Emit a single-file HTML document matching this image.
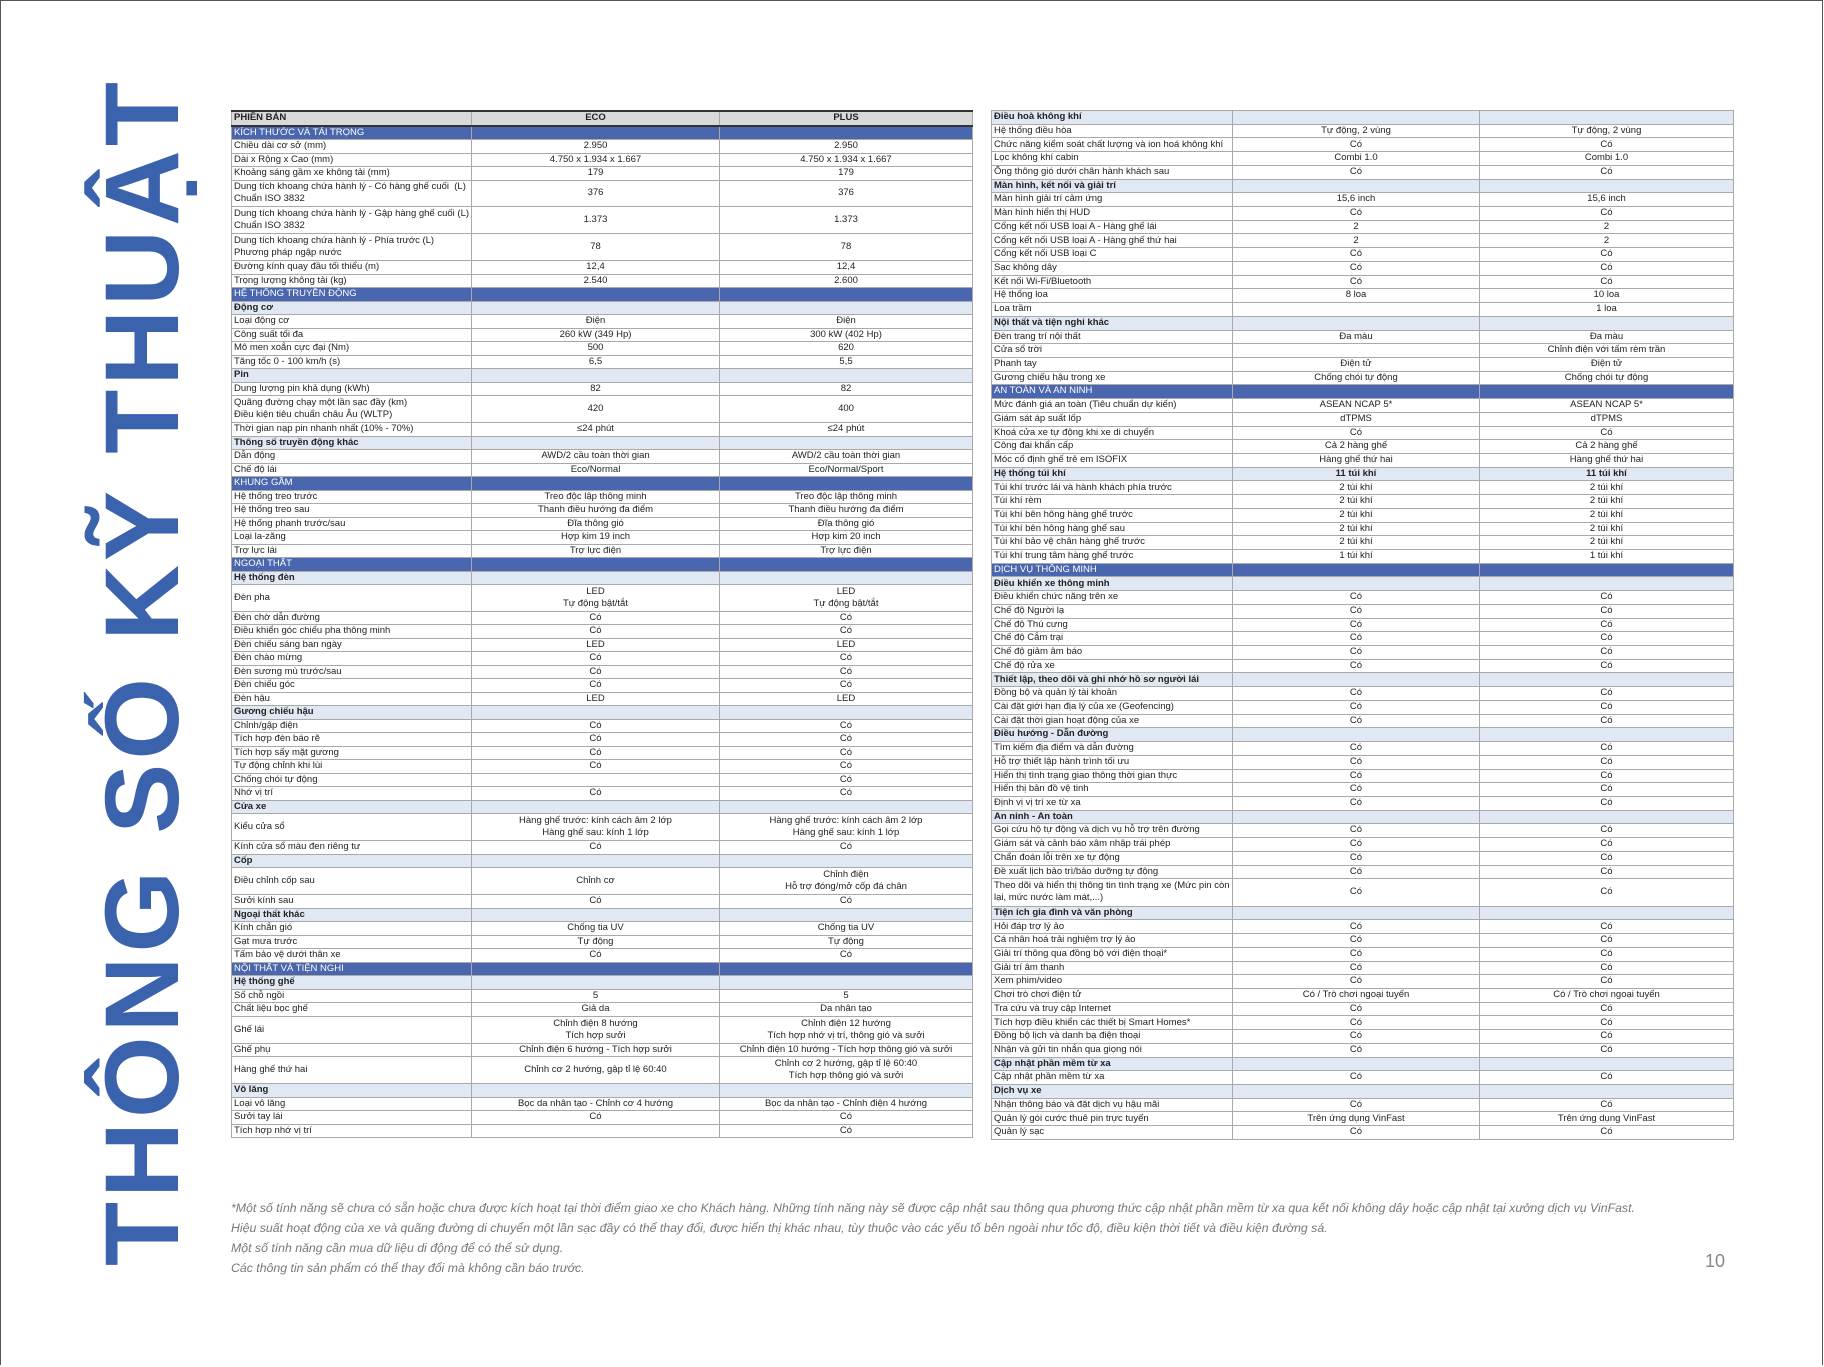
<!DOCTYPE html>
<html><head><meta charset="utf-8">
<style>
html,body{margin:0;padding:0;background:#fff}
body{width:1824px;height:1367px;position:relative;overflow:hidden;font-family:"Liberation Sans",sans-serif;}
.frame{position:absolute;left:0;top:0;width:1821px;height:1364px;border:1.5px solid #555;border-bottom:none}
.title{position:absolute;left:-512px;top:617px;width:1300px;height:110px;line-height:110px;text-align:center;transform:rotate(-90deg);font:bold 105px "Liberation Sans",sans-serif;color:#3a62ad;letter-spacing:4px;white-space:nowrap}
table{position:absolute;border-collapse:collapse;table-layout:fixed;font-size:9.5px;color:#222}
td{border:1px solid #a9a9a9;padding:0 2px;height:12.72px;line-height:12.5px;white-space:nowrap;overflow:hidden}
td:nth-child(2),td:nth-child(3){text-align:center}
tr.d td{height:26.44px;line-height:12px}
#L td{height:12.45px}
#L tr.d td{height:25.9px}
.w{height:24px;line-height:12px;overflow:hidden;display:flex;flex-direction:column;justify-content:center}
tr.h td{background:#d9d9d9;font-weight:bold;border-top:2px solid #333;border-bottom:2px solid #333}
tr.b td{background:#4a66ae;color:#fff}
tr.s td{background:#dfe8f3;font-weight:bold}
#L{left:231px;top:110px;width:741px}
#R{left:991px;top:110px;width:742px}
.note{position:absolute;left:231px;top:1198px;font:italic 12.3px "Liberation Sans",sans-serif;color:#777;line-height:20px}
.pg{position:absolute;left:1705px;top:1251px;font-size:18px;color:#888}
</style></head><body>
<div class="frame"></div>
<div class="title">THÔNG SỐ KỸ THUẬT</div>

<table id="L">
<colgroup><col style="width:240px"><col style="width:248px"><col style="width:253px"></colgroup>
<tr class="h"><td>PHIÊN BẢN</td><td>ECO</td><td>PLUS</td></tr>
<tr class="b"><td>KÍCH THƯỚC VÀ TẢI TRỌNG</td><td></td><td></td></tr>
<tr><td>Chiều dài cơ sở (mm)</td><td>2.950</td><td>2.950</td></tr>
<tr><td>Dài x Rộng x Cao (mm)</td><td>4.750 x 1.934 x 1.667</td><td>4.750 x 1.934 x 1.667</td></tr>
<tr><td>Khoảng sáng gầm xe không tải (mm)</td><td>179</td><td>179</td></tr>
<tr class="d"><td><div class="w"><span>Dung tích khoang chứa hành lý - Có hàng ghế cuối &nbsp;(L)</span><span>Chuẩn ISO 3832</span></div></td><td><div class="w">376</div></td><td><div class="w">376</div></td></tr>
<tr class="d"><td><div class="w"><span>Dung tích khoang chứa hành lý - Gập hàng ghế cuối (L)</span><span>Chuẩn ISO 3832</span></div></td><td><div class="w">1.373</div></td><td><div class="w">1.373</div></td></tr>
<tr class="d"><td><div class="w"><span>Dung tích khoang chứa hành lý - Phía trước (L)</span><span>Phương pháp ngập nước</span></div></td><td><div class="w">78</div></td><td><div class="w">78</div></td></tr>
<tr><td>Đường kính quay đầu tối thiểu (m)</td><td>12,4</td><td>12,4</td></tr>
<tr><td>Trọng lượng không tải (kg)</td><td>2.540</td><td>2.600</td></tr>
<tr class="b"><td>HỆ THỐNG TRUYỀN ĐỘNG</td><td></td><td></td></tr>
<tr class="s"><td>Động cơ</td><td></td><td></td></tr>
<tr><td>Loại động cơ</td><td>Điện</td><td>Điện</td></tr>
<tr><td>Công suất tối đa</td><td>260 kW (349 Hp)</td><td>300 kW (402 Hp)</td></tr>
<tr><td>Mô men xoắn cực đại (Nm)</td><td>500</td><td>620</td></tr>
<tr><td>Tăng tốc 0 - 100 km/h (s)</td><td>6,5</td><td>5,5</td></tr>
<tr class="s"><td>Pin</td><td></td><td></td></tr>
<tr><td>Dung lượng pin khả dụng (kWh)</td><td>82</td><td>82</td></tr>
<tr class="d"><td><div class="w"><span>Quãng đường chạy một lần sạc đầy (km)</span><span>Điều kiện tiêu chuẩn châu Âu (WLTP)</span></div></td><td><div class="w">420</div></td><td><div class="w">400</div></td></tr>
<tr><td>Thời gian nạp pin nhanh nhất (10% - 70%)</td><td>≤24 phút</td><td>≤24 phút</td></tr>
<tr class="s"><td>Thông số truyền động khác</td><td></td><td></td></tr>
<tr><td>Dẫn động</td><td>AWD/2 cầu toàn thời gian</td><td>AWD/2 cầu toàn thời gian</td></tr>
<tr><td>Chế độ lái</td><td>Eco/Normal</td><td>Eco/Normal/Sport</td></tr>
<tr class="b"><td>KHUNG GẦM</td><td></td><td></td></tr>
<tr><td>Hệ thống treo trước</td><td>Treo độc lập thông minh</td><td>Treo độc lập thông minh</td></tr>
<tr><td>Hệ thống treo sau</td><td>Thanh điều hướng đa điểm</td><td>Thanh điều hướng đa điểm</td></tr>
<tr><td>Hệ thống phanh trước/sau</td><td>Đĩa thông gió</td><td>Đĩa thông gió</td></tr>
<tr><td>Loại la-zăng</td><td>Hợp kim 19 inch</td><td>Hợp kim 20 inch</td></tr>
<tr><td>Trợ lực lái</td><td>Trợ lực điện</td><td>Trợ lực điện</td></tr>
<tr class="b"><td>NGOẠI THẤT</td><td></td><td></td></tr>
<tr class="s"><td>Hệ thống đèn</td><td></td><td></td></tr>
<tr class="d"><td><div class="w">Đèn pha</div></td><td><div class="w"><span>LED</span><span>Tự động bật/tắt</span></div></td><td><div class="w"><span>LED</span><span>Tự động bật/tắt</span></div></td></tr>
<tr><td>Đèn chờ dẫn đường</td><td>Có</td><td>Có</td></tr>
<tr><td>Điều khiển góc chiếu pha thông minh</td><td>Có</td><td>Có</td></tr>
<tr><td>Đèn chiếu sáng ban ngày</td><td>LED</td><td>LED</td></tr>
<tr><td>Đèn chào mừng</td><td>Có</td><td>Có</td></tr>
<tr><td>Đèn sương mù trước/sau</td><td>Có</td><td>Có</td></tr>
<tr><td>Đèn chiếu góc</td><td>Có</td><td>Có</td></tr>
<tr><td>Đèn hậu</td><td>LED</td><td>LED</td></tr>
<tr class="s"><td>Gương chiếu hậu</td><td></td><td></td></tr>
<tr><td>Chỉnh/gập điện</td><td>Có</td><td>Có</td></tr>
<tr><td>Tích hợp đèn báo rẽ</td><td>Có</td><td>Có</td></tr>
<tr><td>Tích hợp sấy mặt gương</td><td>Có</td><td>Có</td></tr>
<tr><td>Tự động chỉnh khi lùi</td><td>Có</td><td>Có</td></tr>
<tr><td>Chống chói tự động</td><td></td><td>Có</td></tr>
<tr><td>Nhớ vị trí</td><td>Có</td><td>Có</td></tr>
<tr class="s"><td>Cửa xe</td><td></td><td></td></tr>
<tr class="d"><td><div class="w">Kiểu cửa sổ</div></td><td><div class="w"><span>Hàng ghế trước: kính cách âm 2 lớp</span><span>Hàng ghế sau: kính 1 lớp</span></div></td><td><div class="w"><span>Hàng ghế trước: kính cách âm 2 lớp</span><span>Hàng ghế sau: kính 1 lớp</span></div></td></tr>
<tr><td>Kính cửa sổ màu đen riêng tư</td><td>Có</td><td>Có</td></tr>
<tr class="s"><td>Cốp</td><td></td><td></td></tr>
<tr class="d"><td><div class="w">Điều chỉnh cốp sau</div></td><td><div class="w">Chỉnh cơ</div></td><td><div class="w"><span>Chỉnh điện</span><span>Hỗ trợ đóng/mở cốp đá chân</span></div></td></tr>
<tr><td>Sưởi kính sau</td><td>Có</td><td>Có</td></tr>
<tr class="s"><td>Ngoại thất khác</td><td></td><td></td></tr>
<tr><td>Kính chắn gió</td><td>Chống tia UV</td><td>Chống tia UV</td></tr>
<tr><td>Gạt mưa trước</td><td>Tự động</td><td>Tự động</td></tr>
<tr><td>Tấm bảo vệ dưới thân xe</td><td>Có</td><td>Có</td></tr>
<tr class="b"><td>NỘI THẤT VÀ TIỆN NGHI</td><td></td><td></td></tr>
<tr class="s"><td>Hệ thống ghế</td><td></td><td></td></tr>
<tr><td>Số chỗ ngồi</td><td>5</td><td>5</td></tr>
<tr><td>Chất liệu bọc ghế</td><td>Giả da</td><td>Da nhân tạo</td></tr>
<tr class="d"><td><div class="w">Ghế lái</div></td><td><div class="w"><span>Chỉnh điện 8 hướng</span><span>Tích hợp sưởi</span></div></td><td><div class="w"><span>Chỉnh điện 12 hướng</span><span>Tích hợp nhớ vị trí, thông gió và sưởi</span></div></td></tr>
<tr><td>Ghế phụ</td><td>Chỉnh điện 6 hướng - Tích hợp sưởi</td><td>Chỉnh điện 10 hướng - Tích hợp thông gió và sưởi</td></tr>
<tr class="d"><td><div class="w">Hàng ghế thứ hai</div></td><td><div class="w">Chỉnh cơ 2 hướng, gập tỉ lệ 60:40</div></td><td><div class="w"><span>Chỉnh cơ 2 hướng, gập tỉ lệ 60:40</span><span>Tích hợp thông gió và sưởi</span></div></td></tr>
<tr class="s"><td>Vô lăng</td><td></td><td></td></tr>
<tr><td>Loại vô lăng</td><td>Bọc da nhân tạo - Chỉnh cơ 4 hướng</td><td>Bọc da nhân tạo - Chỉnh điện 4 hướng</td></tr>
<tr><td>Sưởi tay lái</td><td>Có</td><td>Có</td></tr>
<tr><td>Tích hợp nhớ vị trí</td><td></td><td>Có</td></tr>
</table>

<table id="R">
<colgroup><col style="width:241px"><col style="width:247px"><col style="width:254px"></colgroup>
<tr class="s"><td>Điều hoà không khí</td><td></td><td></td></tr>
<tr><td>Hệ thống điều hòa</td><td>Tự động, 2 vùng</td><td>Tự động, 2 vùng</td></tr>
<tr><td>Chức năng kiểm soát chất lượng và ion hoá không khí</td><td>Có</td><td>Có</td></tr>
<tr><td>Lọc không khí cabin</td><td>Combi 1.0</td><td>Combi 1.0</td></tr>
<tr><td>Ống thông gió dưới chân hành khách sau</td><td>Có</td><td>Có</td></tr>
<tr class="s"><td>Màn hình, kết nối và giải trí</td><td></td><td></td></tr>
<tr><td>Màn hình giải trí cảm ứng</td><td>15,6 inch</td><td>15,6 inch</td></tr>
<tr><td>Màn hình hiển thị HUD</td><td>Có</td><td>Có</td></tr>
<tr><td>Cổng kết nối USB loại A - Hàng ghế lái</td><td>2</td><td>2</td></tr>
<tr><td>Cổng kết nối USB loại A - Hàng ghế thứ hai</td><td>2</td><td>2</td></tr>
<tr><td>Cổng kết nối USB loại C</td><td>Có</td><td>Có</td></tr>
<tr><td>Sạc không dây</td><td>Có</td><td>Có</td></tr>
<tr><td>Kết nối Wi-Fi/Bluetooth</td><td>Có</td><td>Có</td></tr>
<tr><td>Hệ thống loa</td><td>8 loa</td><td>10 loa</td></tr>
<tr><td>Loa trầm</td><td></td><td>1 loa</td></tr>
<tr class="s"><td>Nội thất và tiện nghi khác</td><td></td><td></td></tr>
<tr><td>Đèn trang trí nội thất</td><td>Đa màu</td><td>Đa màu</td></tr>
<tr><td>Cửa sổ trời</td><td></td><td>Chỉnh điện với tấm rèm trần</td></tr>
<tr><td>Phanh tay</td><td>Điện tử</td><td>Điện tử</td></tr>
<tr><td>Gương chiếu hậu trong xe</td><td>Chống chói tự động</td><td>Chống chói tự động</td></tr>
<tr class="b"><td>AN TOÀN VÀ AN NINH</td><td></td><td></td></tr>
<tr><td>Mức đánh giá an toàn (Tiêu chuẩn dự kiến)</td><td>ASEAN NCAP 5*</td><td>ASEAN NCAP 5*</td></tr>
<tr><td>Giám sát áp suất lốp</td><td>dTPMS</td><td>dTPMS</td></tr>
<tr><td>Khoá cửa xe tự động khi xe di chuyển</td><td>Có</td><td>Có</td></tr>
<tr><td>Công đai khẩn cấp</td><td>Cả 2 hàng ghế</td><td>Cả 2 hàng ghế</td></tr>
<tr><td>Móc cố định ghế trẻ em ISOFIX</td><td>Hàng ghế thứ hai</td><td>Hàng ghế thứ hai</td></tr>
<tr class="s"><td>Hệ thống túi khí</td><td>11 túi khí</td><td>11 túi khí</td></tr>
<tr><td>Túi khí trước lái và hành khách phía trước</td><td>2 túi khí</td><td>2 túi khí</td></tr>
<tr><td>Túi khí rèm</td><td>2 túi khí</td><td>2 túi khí</td></tr>
<tr><td>Túi khí bên hông hàng ghế trước</td><td>2 túi khí</td><td>2 túi khí</td></tr>
<tr><td>Túi khí bên hông hàng ghế sau</td><td>2 túi khí</td><td>2 túi khí</td></tr>
<tr><td>Túi khí bảo vệ chân hàng ghế trước</td><td>2 túi khí</td><td>2 túi khí</td></tr>
<tr><td>Túi khí trung tâm hàng ghế trước</td><td>1 túi khí</td><td>1 túi khí</td></tr>
<tr class="b"><td>DỊCH VỤ THÔNG MINH</td><td></td><td></td></tr>
<tr class="s"><td>Điều khiển xe thông minh</td><td></td><td></td></tr>
<tr><td>Điều khiển chức năng trên xe</td><td>Có</td><td>Có</td></tr>
<tr><td>Chế độ Người lạ</td><td>Có</td><td>Có</td></tr>
<tr><td>Chế độ Thú cưng</td><td>Có</td><td>Có</td></tr>
<tr><td>Chế độ Cắm trại</td><td>Có</td><td>Có</td></tr>
<tr><td>Chế độ giảm âm báo</td><td>Có</td><td>Có</td></tr>
<tr><td>Chế độ rửa xe</td><td>Có</td><td>Có</td></tr>
<tr class="s"><td>Thiết lập, theo dõi và ghi nhớ hồ sơ người lái</td><td></td><td></td></tr>
<tr><td>Đồng bộ và quản lý tài khoản</td><td>Có</td><td>Có</td></tr>
<tr><td>Cài đặt giới hạn địa lý của xe (Geofencing)</td><td>Có</td><td>Có</td></tr>
<tr><td>Cài đặt thời gian hoạt động của xe</td><td>Có</td><td>Có</td></tr>
<tr class="s"><td>Điều hướng - Dẫn đường</td><td></td><td></td></tr>
<tr><td>Tìm kiếm địa điểm và dẫn đường</td><td>Có</td><td>Có</td></tr>
<tr><td>Hỗ trợ thiết lập hành trình tối ưu</td><td>Có</td><td>Có</td></tr>
<tr><td>Hiển thị tình trạng giao thông thời gian thực</td><td>Có</td><td>Có</td></tr>
<tr><td>Hiển thị bản đồ vệ tinh</td><td>Có</td><td>Có</td></tr>
<tr><td>Định vị vị trí xe từ xa</td><td>Có</td><td>Có</td></tr>
<tr class="s"><td>An ninh - An toàn</td><td></td><td></td></tr>
<tr><td>Gọi cứu hộ tự động và dịch vụ hỗ trợ trên đường</td><td>Có</td><td>Có</td></tr>
<tr><td>Giám sát và cảnh báo xâm nhập trái phép</td><td>Có</td><td>Có</td></tr>
<tr><td>Chẩn đoán lỗi trên xe tự động</td><td>Có</td><td>Có</td></tr>
<tr><td>Đề xuất lịch bảo trì/bảo dưỡng tự động</td><td>Có</td><td>Có</td></tr>
<tr class="d"><td><div class="w"><span>Theo dõi và hiển thị thông tin tình trạng xe (Mức pin còn</span><span>lại, mức nước làm mát,...)</span></div></td><td><div class="w">Có</div></td><td><div class="w">Có</div></td></tr>
<tr class="s"><td>Tiện ích gia đình và văn phòng</td><td></td><td></td></tr>
<tr><td>Hỏi đáp trợ lý ảo</td><td>Có</td><td>Có</td></tr>
<tr><td>Cá nhân hoá trải nghiệm trợ lý ảo</td><td>Có</td><td>Có</td></tr>
<tr><td>Giải trí thông qua đồng bộ với điện thoại*</td><td>Có</td><td>Có</td></tr>
<tr><td>Giải trí âm thanh</td><td>Có</td><td>Có</td></tr>
<tr><td>Xem phim/video</td><td>Có</td><td>Có</td></tr>
<tr><td>Chơi trò chơi điện tử</td><td>Có / Trò chơi ngoại tuyến</td><td>Có / Trò chơi ngoại tuyến</td></tr>
<tr><td>Tra cứu và truy cập Internet</td><td>Có</td><td>Có</td></tr>
<tr><td>Tích hợp điều khiển các thiết bị Smart Homes*</td><td>Có</td><td>Có</td></tr>
<tr><td>Đồng bộ lịch và danh bạ điện thoại</td><td>Có</td><td>Có</td></tr>
<tr><td>Nhận và gửi tin nhắn qua giọng nói</td><td>Có</td><td>Có</td></tr>
<tr class="s"><td>Cập nhật phần mềm từ xa</td><td></td><td></td></tr>
<tr><td>Cập nhật phần mềm từ xa</td><td>Có</td><td>Có</td></tr>
<tr class="s"><td>Dịch vụ xe</td><td></td><td></td></tr>
<tr><td>Nhận thông báo và đặt dịch vụ hậu mãi</td><td>Có</td><td>Có</td></tr>
<tr><td>Quản lý gói cước thuê pin trực tuyến</td><td>Trên ứng dụng VinFast</td><td>Trên ứng dụng VinFast</td></tr>
<tr><td>Quản lý sạc</td><td>Có</td><td>Có</td></tr>
</table>

<div class="note">*Một số tính năng sẽ chưa có sẵn hoặc chưa được kích hoạt tại thời điểm giao xe cho Khách hàng. Những tính năng này sẽ được cập nhật sau thông qua phương thức cập nhật phần mềm từ xa qua kết nối không dây hoặc cập nhật tại xưởng dịch vụ VinFast.<br>Hiệu suất hoạt động của xe và quãng đường di chuyển một lần sạc đầy có thể thay đổi, được hiển thị khác nhau, tùy thuộc vào các yếu tố bên ngoài như tốc độ, điều kiện thời tiết và điều kiện đường sá.<br>Một số tính năng cần mua dữ liệu di động để có thể sử dụng.<br>Các thông tin sản phẩm có thể thay đổi mà không cần báo trước.</div>
<div class="pg">10</div>
</body></html>
